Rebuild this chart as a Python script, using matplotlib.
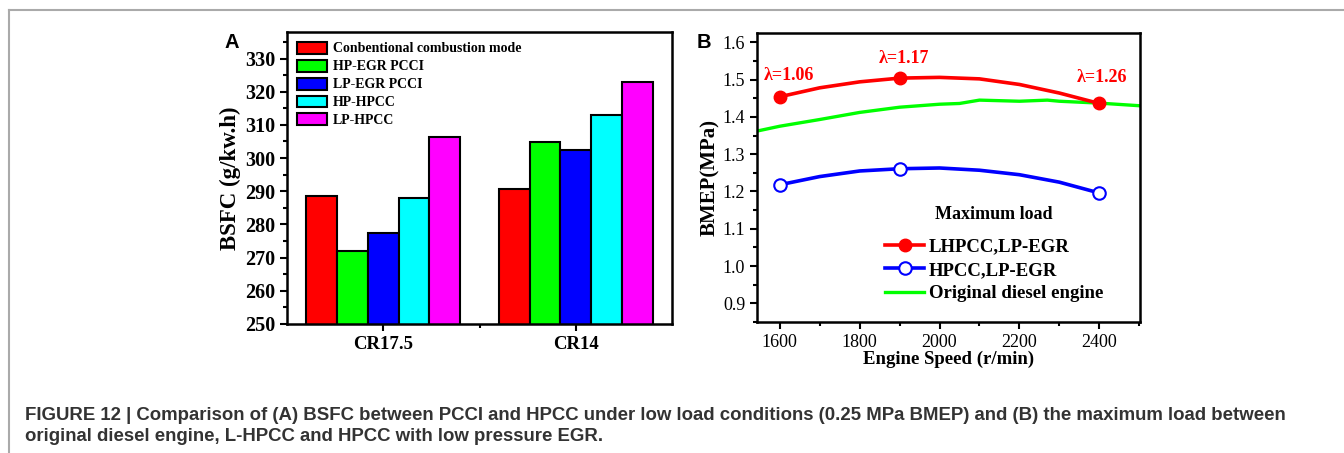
import matplotlib

matplotlib.use("Agg")
import matplotlib.pyplot as plt
import numpy as np
from matplotlib.lines import Line2D
from matplotlib.ticker import MultipleLocator, FixedLocator

plt.rcParams["font.family"] = ["Liberation Serif", "DejaVu Serif"]

# Panel A: BSFC bars
cr_labels = ["CR17.5", "CR14"]
modes = ["Conbentional combustion mode", "HP-EGR PCCI", "LP-EGR PCCI",
         "HP-HPCC", "LP-HPCC"]
mode_colors = ["#ff0000", "#00ff00", "#0000ff", "#00ffff", "#ff00ff"]
bsfc = [
    [288.7, 290.8],  # conventional
    [271.9, 304.9],  # HP-EGR PCCI
    [277.5, 302.5],  # LP-EGR PCCI
    [287.9, 313.0],  # HP-HPCC
    [306.5, 322.9],  # LP-HPCC
]

# Panel B: maximum load curves
speed_pts = [1600, 1900, 2400]
lhpcc_pts = [1.454, 1.504, 1.436]
hpcc_pts = [1.218, 1.261, 1.196]
lambda_labels = ["λ=1.06", "λ=1.17", "λ=1.26"]

curve_speed = [1600, 1700, 1800, 1900, 2000, 2100, 2200, 2300, 2400]
lhpcc_curve = [1.454, 1.478, 1.494, 1.504, 1.506, 1.502, 1.487, 1.464, 1.436]
hpcc_curve = [1.218, 1.240, 1.255, 1.261, 1.263, 1.257, 1.245, 1.225, 1.196]

orig_speed = [1543, 1600, 1700, 1800, 1900, 2000, 2050, 2100, 2200, 2270, 2300, 2400, 2500]
orig_bmep = [1.362, 1.375, 1.393, 1.412, 1.426, 1.434, 1.436, 1.445, 1.442, 1.445, 1.442, 1.437, 1.430]

W, H = 1344, 453
fig = plt.figure(figsize=(W / 100, H / 100), dpi=100)


def frac(l, t, r, b):
    return [l / W, 1 - b / H, (r - l) / W, (b - t) / H]


def style_axis(ax):
    for s in ax.spines.values():
        s.set_linewidth(1.8)
    ax.tick_params(which="both", direction="out", top=False, right=False, width=1.5)
    ax.tick_params(which="major", length=5)
    ax.tick_params(which="minor", length=3)


# ---- Panel A ----
axA = fig.add_axes(frac(287, 32, 672, 324))
x = np.arange(len(cr_labels))
bw = 0.16
for i, (name, col) in enumerate(zip(modes, mode_colors)):
    axA.bar(x + (i - 2) * bw, bsfc[i], bw, bottom=0, color=col,
            edgecolor="black", linewidth=1.5, label=name)
axA.set_xlim(-0.5, 1.5)
axA.set_ylim(250, 338)
axA.set_xticks(x)
axA.set_xticklabels(cr_labels, fontsize=13.5, fontweight="bold")
axA.xaxis.set_minor_locator(FixedLocator([0.5]))
axA.yaxis.set_major_locator(MultipleLocator(10))
axA.yaxis.set_minor_locator(MultipleLocator(5))
style_axis(axA)
for lab in axA.get_yticklabels():
    lab.set_fontsize(14.5)
    lab.set_fontweight("bold")
axA.set_ylabel("BSFC (g/kw.h)", fontsize=16.5, fontweight="bold", labelpad=3)
axA.legend(loc="upper left", bbox_to_anchor=(0.0, 1.0), frameon=False,
           prop={"size": 10, "weight": "bold"}, handlelength=2.2,
           handleheight=0.95, handletextpad=0.4, labelspacing=0.3,
           borderaxespad=0.3)

# ---- Panel B ----
axB = fig.add_axes(frac(757, 33, 1140, 322))
axB.plot(orig_speed, orig_bmep, color="#00ff00", lw=2.4, zorder=2,
         label="Original diesel engine")
axB.plot(curve_speed, lhpcc_curve, color="#ff0000", lw=2.6, zorder=3)
axB.plot(speed_pts, lhpcc_pts, ls="none", marker="o", ms=9, color="#ff0000", zorder=4)
axB.plot(curve_speed, hpcc_curve, color="#0000ff", lw=2.6, zorder=3)
axB.plot(speed_pts, hpcc_pts, ls="none", marker="o", ms=9, color="#0000ff",
         mfc="white", mew=1.5, zorder=4)

lab_xy = [(1622, 1.511), (1910, 1.556), (2407, 1.506)]
for txt, (lx, ly) in zip(lambda_labels, lab_xy):
    axB.text(lx, ly, txt, color="#ff0000", fontsize=13, fontweight="bold",
             ha="center", va="center")

axB.set_xlim(1543, 2502)
axB.set_ylim(0.85, 1.625)
axB.xaxis.set_major_locator(MultipleLocator(200))
axB.xaxis.set_minor_locator(MultipleLocator(100))
axB.yaxis.set_major_locator(MultipleLocator(0.1))
axB.yaxis.set_minor_locator(MultipleLocator(0.05))
style_axis(axB)
axB.tick_params(labelsize=13)
axB.set_xlabel("Engine Speed (r/min)", fontsize=13.5, fontweight="bold", labelpad=0)
axB.set_ylabel("BMEP(MPa)", fontsize=15, fontweight="bold", labelpad=2)

handles = [
    Line2D([], [], color="#ff0000", lw=2.6, marker="o", ms=9),
    Line2D([], [], color="#0000ff", lw=2.6, marker="o", ms=9, mfc="white", mew=1.5),
    Line2D([], [], color="#00ff00", lw=2.4),
]
leg = axB.legend(handles, ["LHPCC,LP-EGR", "HPCC,LP-EGR", "Original diesel engine"],
                 loc="lower left", bbox_to_anchor=(0.29, 0.01), frameon=False,
                 prop={"size": 13.5, "weight": "bold"}, handlelength=2.1,
                 handletextpad=0.25, labelspacing=0.33,
                 title="Maximum load",
                 title_fontproperties={"size": 13, "weight": "bold"})
leg._legend_box.sep = 11

# panel letters
fig.text(225 / W, 1 - 48 / H, "A", fontsize=14.5, fontweight="bold",
         family="Liberation Sans")
fig.text(697 / W, 1 - 48 / H, "B", fontsize=14.5, fontweight="bold",
         family="Liberation Sans")

# page frame lines
fig.add_artist(Line2D([9 / W, 1], [1 - 10 / H, 1 - 10 / H], color="#aaaaaa", lw=1.5))
fig.add_artist(Line2D([9 / W, 9 / W], [0, 1 - 10 / H], color="#aaaaaa", lw=1.5))

# caption
cap1 = ("FIGURE 12 | Comparison of (A) BSFC between PCCI and HPCC under low load "
        "conditions (0.25 MPa BMEP) and (B) the maximum load between")
cap2 = "original diesel engine, L-HPCC and HPCC with low pressure EGR."
fig.text(25 / W, 1 - 420 / H, cap1, fontsize=13.4, fontweight="bold",
         color="#333333", family="Liberation Sans", va="baseline")
fig.text(25 / W, 1 - 441 / H, cap2, fontsize=13.4, fontweight="bold",
         color="#333333", family="Liberation Sans", va="baseline")

fig.savefig("out.png", dpi=100)
